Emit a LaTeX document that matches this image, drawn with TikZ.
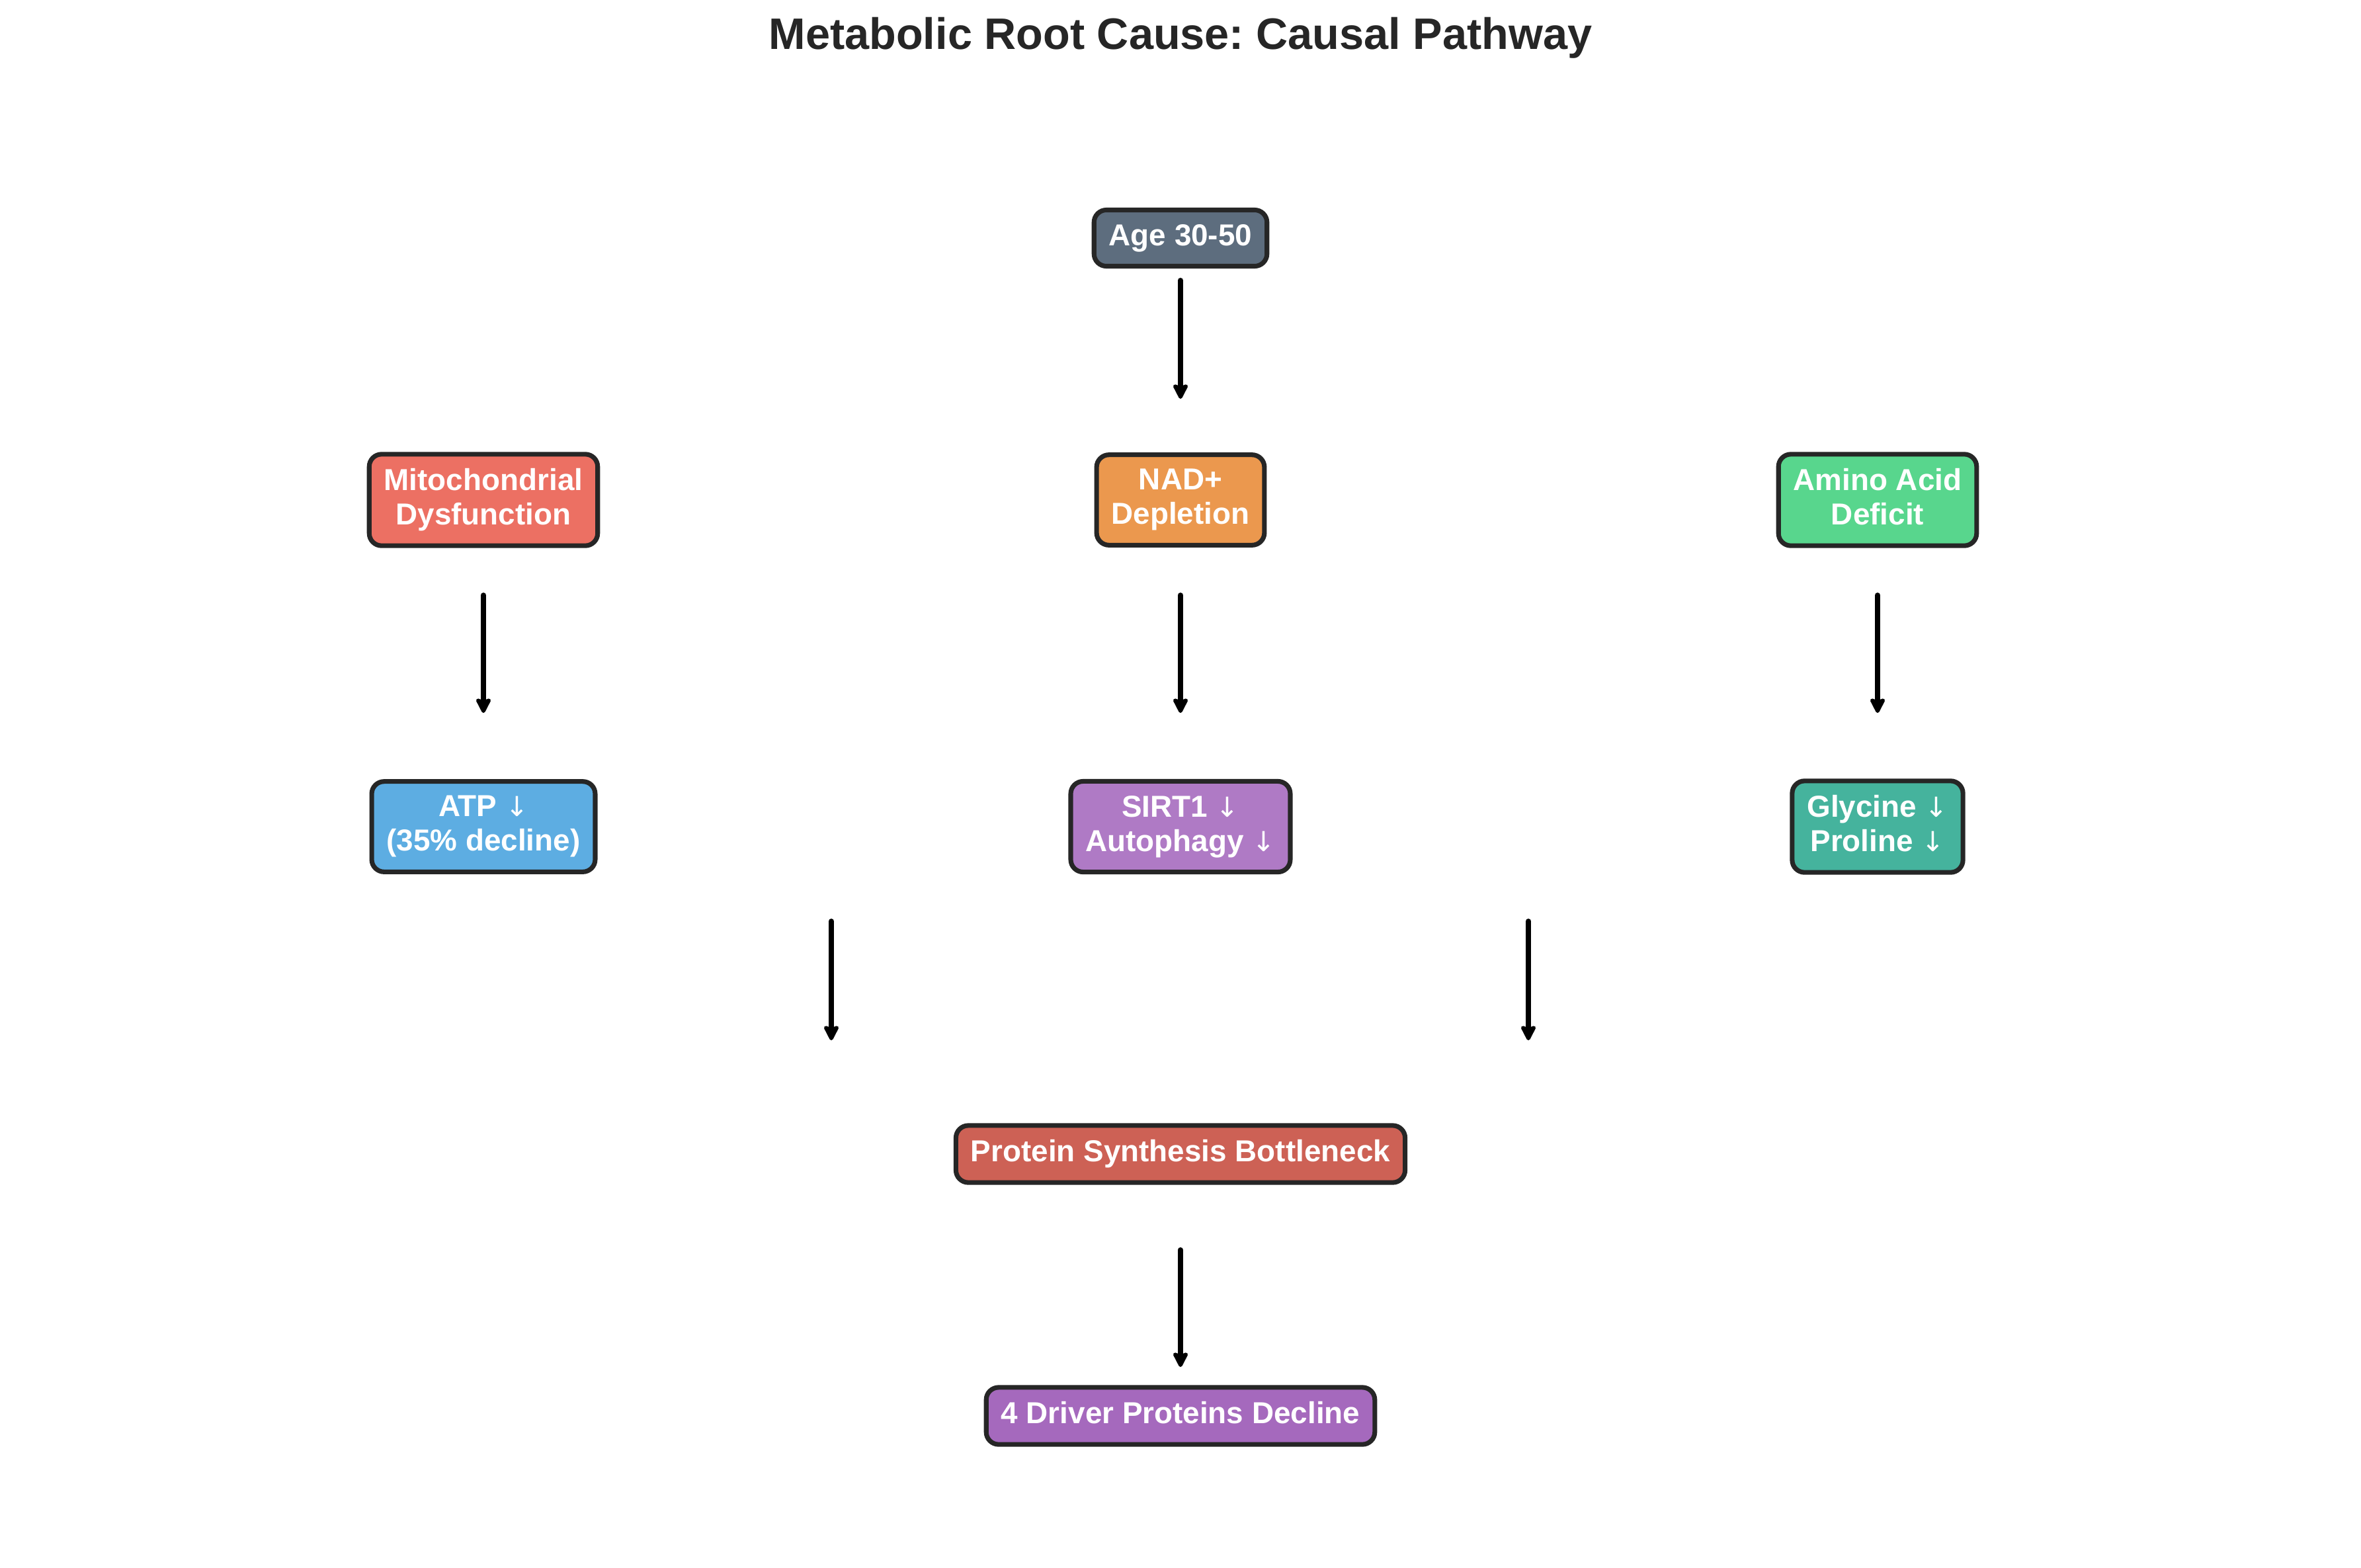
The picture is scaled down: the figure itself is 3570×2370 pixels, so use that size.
\documentclass[tikz,border=0pt]{standalone}
\usepackage{fontspec}
\setmainfont{Liberation Sans}
\newfontfamily\arrowfont{DejaVu Sans}
\usetikzlibrary{arrows.meta}
\frenchspacing

\definecolor{titlegray}{HTML}{262626}
\definecolor{boxline}{HTML}{262626}
\definecolor{agecol}{HTML}{5D6D7E}
\definecolor{mitocol}{HTML}{EC7063}
\definecolor{nadcol}{HTML}{EB984E}
\definecolor{aminocol}{HTML}{58D68D}
\definecolor{atpcol}{HTML}{5DADE2}
\definecolor{sirtcol}{HTML}{AF7AC5}
\definecolor{glycol}{HTML}{45B39D}
\definecolor{synthcol}{HTML}{CD6155}
\definecolor{drivercol}{HTML}{A569BD}

\newcommand{\dn}{{\arrowfont\mdseries\fontsize{10}{12}\selectfont ↓}}

\begin{document}
\begin{tikzpicture}[x=0.24pt,y=-0.24pt,
    box/.style={draw=boxline,line width=1.7pt,rounded corners=4.5pt,text=white,
      font=\bfseries\fontsize{11}{12.5}\selectfont,align=center,
      inner xsep=5.4pt,inner ysep=5.2pt,execute at end node={\vphantom{gy}}},
    flow/.style={-{Stealth[length=6.5pt,width=6.5pt,inset=1.2pt,round]},line width=1.9pt,line cap=round}]
    \useasboundingbox (0,0) rectangle (3570,2370);

    \node (title) at (1785,57) {\bfseries\fontsize{16}{19}\selectfont\color{titlegray}Metabolic Root Cause: Causal Pathway};

    \node[box,fill=agecol]    (age)    at (1785,360)  {Age 30-50};
    \node[box,fill=mitocol]   (mito)   at (731,756)   {Mitochondrial\\Dysfunction};
    \node[box,fill=nadcol]    (nad)    at (1785,756)  {NAD+\\Depletion};
    \node[box,fill=aminocol]  (amino)  at (2839,756)  {Amino Acid\\Deficit};
    \node[box,fill=atpcol]    (atp)    at (731,1250)  {ATP \dn\\(35\% decline)};
    \node[box,fill=sirtcol]   (sirt)   at (1785,1250) {SIRT1 \dn\\Autophagy \dn};
    \node[box,fill=glycol]    (gly)    at (2839,1250) {Glycine \dn\\Proline \dn};
    \node[box,fill=synthcol]  (synth)  at (1785,1745) {Protein Synthesis Bottleneck};
    \node[box,fill=drivercol] (driver) at (1785,2141) {4 Driver Proteins Decline};

    % causal arrows
    \foreach \n/\x/\ya/\yb in {1/1785/424/603, 2/731/900/1078, 3/1785/900/1078,
        4/2839/900/1078, 5/1257/1393/1573, 6/2311/1393/1573, 7/1785/1890/2067} {
      \coordinate (t\n) at (\x,\ya);
      \coordinate (h\n) at (\x,\yb);
      \path (t\n) edge[flow] (h\n);
    }
\end{tikzpicture}
\end{document}
